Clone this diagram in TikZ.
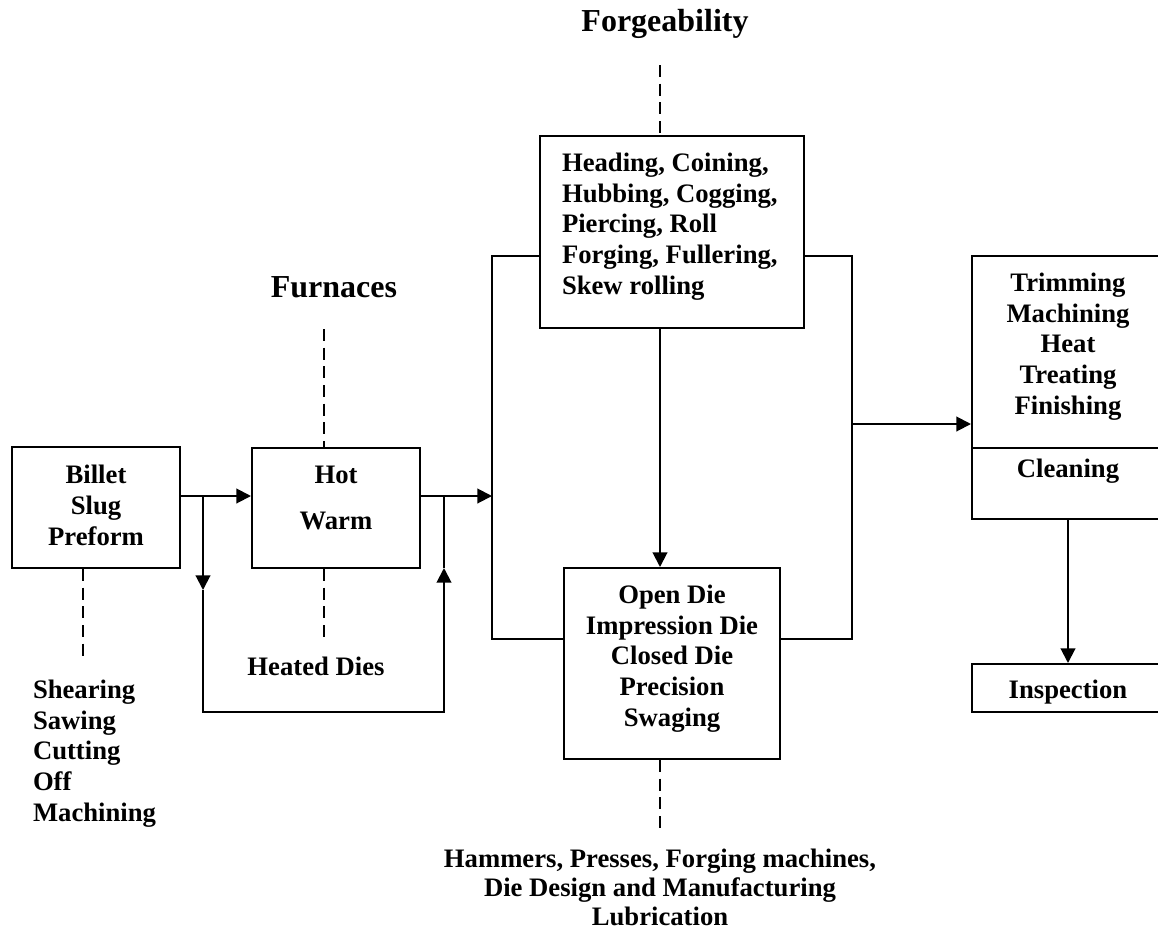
\documentclass[tikz,border=0pt]{standalone}
\usepackage{fontspec}
\setmainfont{Liberation Serif}
\usetikzlibrary{arrows.meta,fit,calc}
\begin{document}
\begin{tikzpicture}[x=0.75pt,y=-0.75pt,
  line width=1.5pt,
  box/.style={draw, rectangle, inner sep=0pt, line width=1.5pt},
  txt/.style={font=\fontsize{20}{23}\selectfont\bfseries, inner sep=0pt, align=center, anchor=base},
  head/.style={font=\fontsize{24}{28}\selectfont\bfseries, inner sep=0pt, anchor=base},
  arr/.style={-{Triangle[length=11pt,width=11pt]}},
  dashln/.style={dash pattern=on 9pt off 5pt}]
\useasboundingbox (0,0) rectangle (1158,933);
\clip (0,0) rectangle (1158,933);

% boxes
\node[box, fit={(12,447)(180,568)}] (billet) {};
\node[box, fit={(252,448)(420,568)}] (hot) {};
\node[box, fit={(540,136)(804,328)}] (forge) {};
\node[box, fit={(564,568)(780,759)}] (open) {};
\node[box, fit={(972,256)(1164,519)}] (trim) {};
\node[box, fit={(972,664)(1164,712)}] (insp) {};
\coordinate (div) at (972,448);
\draw (div) -- (div -| trim.east);

% texts (anchor base = baseline of the last line)
\node[head] (tForge) at (665,31) {Forgeability};
\node[head] (tFurn) at (334,297) {Furnaces};
\node[txt] (tBillet) at (96,545) {Billet\\Slug\\Preform};
\node[txt] (tHot) at (336,529) {Hot\\[11.5pt]Warm};
\node[txt] (tHeated) at (316,675) {Heated Dies};
\node[txt, align=left, anchor=base west] (tShear) at (32,821) {Shearing\\Sawing\\Cutting\\Off\\Machining};
\node[txt, align=left, anchor=base west] (tOps) at (561,294) {Heading, Coining,\\Hubbing, Cogging,\\Piercing, Roll\\Forging, Fullering,\\Skew rolling};
\node[txt] (tOpen) at (672,726) {Open Die\\Impression Die\\Closed Die\\Precision\\Swaging};
\node[txt, font=\fontsize{20}{21.75}\selectfont\bfseries] (tEquip) at (660,925) {Hammers, Presses, Forging machines,\\Die Design and Manufacturing\\Lubrication};
\node[txt] (tTrim) at (1068,414) {Trimming\\Machining\\Heat\\Treating\\Finishing};
\node[txt] (tClean) at (1068,477) {Cleaning};
\node[txt] (tInsp) at (1068,698) {Inspection};

% coordinates
\coordinate (j1) at (203,496);
\coordinate (lA) at (203,590);
\coordinate (lB) at (203,712);
\coordinate (lC) at (444,712);
\coordinate (lD) at (444,568);
\coordinate (j2) at (444,496);
\coordinate (bl) at (492,496);
\coordinate (blt) at (492,256);
\coordinate (blb) at (492,639);
\coordinate (brt) at (852,256);
\coordinate (brb) at (852,639);
\coordinate (bro) at (852,424);
\coordinate (cx) at (660,0);
\coordinate (fgd) at (660,65);
\coordinate (fud) at (324,329);
\coordinate (hdx) at (324,0);
\coordinate (hde) at (324,638);
\coordinate (bdx) at (83,0);
\coordinate (bde) at (83,662);
\coordinate (ode) at (660,830);

% connectors
\draw (billet.east |- j1) -- (j1);
\draw[arr] (j1) -- (hot.west |- j1);
\draw[arr] (j1) -- (lA);
\draw[arr] (lA) -- (lB) -- (lC) -- (lD);
\draw (lD) -- (j2);
\draw (hot.east |- j2) -- (j2);
\draw[arr] (j2) -- (bl);
\draw (forge.west |- blt) -- (blt) -- (blb) -- (open.west |- blb);
\draw (forge.east |- brt) -- (brt) -- (brb) -- (open.east |- brb);
\draw[arr] (bro) -- (trim.west |- bro);
\draw[arr] (forge.south -| cx) -- (open.north -| cx);
\draw[arr] (trim.south) -- (insp.north);

% dashed
\draw[dashln] (fgd) -- (forge.north -| cx);
\draw[dashln] (fud) -- (hot.north -| hdx);
\draw[dashln] (hot.south -| hdx) -- (hde);
\draw[dashln] (billet.south -| bdx) -- (bde);
\draw[dashln] (open.south -| cx) -- (ode);
\end{tikzpicture}
\end{document}
